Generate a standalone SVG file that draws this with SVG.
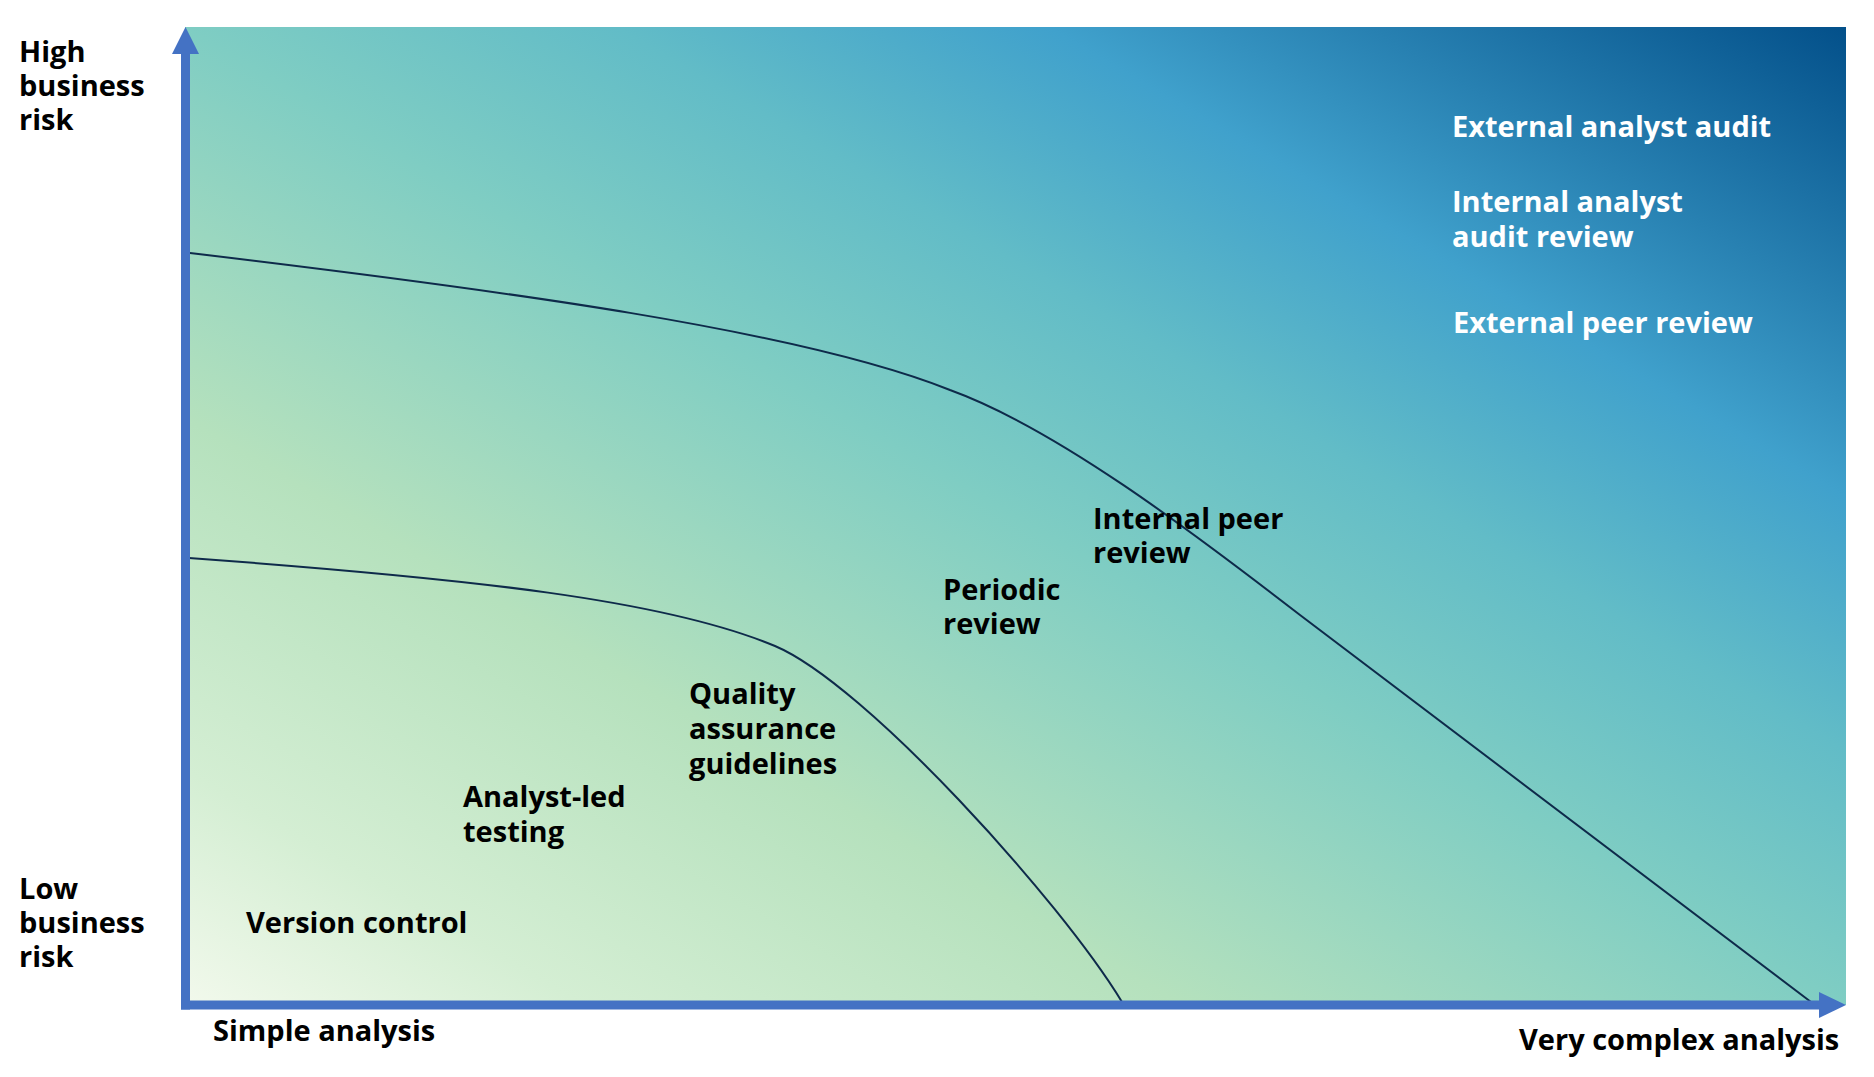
<svg xmlns="http://www.w3.org/2000/svg" width="1874" height="1077" viewBox="0 0 1874 1077">
<defs>
<linearGradient id="bg" x1="0" y1="1" x2="1" y2="0">
<stop offset="0" stop-color="#f2f9ec"/>
<stop offset="0.12" stop-color="#d4eed3"/>
<stop offset="0.3" stop-color="#b5e1bd"/>
<stop offset="0.5" stop-color="#7fcdc3"/>
<stop offset="0.63" stop-color="#62bcc7"/>
<stop offset="0.76" stop-color="#40a1cc"/>
<stop offset="1" stop-color="#03508a"/>
</linearGradient>
</defs>
<style>
.t{font-family:"Open Sans","Liberation Sans",sans-serif;font-weight:bold;font-size:29px;fill:#000}
.w{fill:#fff}
.axis{stroke:#4472c4;stroke-width:9;fill:none}
.head{fill:#4472c4}
.curve{stroke:#0e2a4a;stroke-width:2;fill:none}
</style>
<rect x="185" y="27" width="1661" height="978" fill="url(#bg)"/>
<g id="connectors">
<path class="curve" d="M190,253 C500,290 800,330 950,390 C1055,428 1190,530 1300,615 L1811,1002"/>
<path class="curve" d="M189,558 C475,579 665,600 775,646 C865,684 1060,900 1122,1002"/>
<line class="axis" x1="185.5" y1="50" x2="185.5" y2="1009.5"/>
<line class="axis" x1="181" y1="1005" x2="1822" y2="1005"/>
<polygon class="head" points="185.5,27 199,54 172,54"/>
<polygon class="head" points="1846,1005 1819,992 1819,1018"/>
</g>
<g id="y-high"><text class="t" x="19" y="62">High</text><text class="t" x="19" y="96">business</text><text class="t" x="19" y="130">risk</text></g>
<g id="y-low"><text class="t" x="19" y="899">Low</text><text class="t" x="19" y="933">business</text><text class="t" x="19" y="967">risk</text></g>
<g id="x-simple"><text class="t" x="213" y="1041">Simple analysis</text></g>
<g id="x-complex"><text class="t" x="1519" y="1050">Very complex analysis</text></g>
<g id="version-control"><text class="t" x="246" y="933">Version control</text></g>
<g id="analyst-led"><text class="t" x="463" y="807">Analyst-led</text><text class="t" x="463" y="842">testing</text></g>
<g id="qa-guidelines"><text class="t" x="689" y="704">Quality</text><text class="t" x="689" y="739">assurance</text><text class="t" x="689" y="774">guidelines</text></g>
<g id="periodic-review"><text class="t" x="943" y="600">Periodic</text><text class="t" x="943" y="634">review</text></g>
<g id="internal-peer"><text class="t" x="1093" y="529">Internal peer</text><text class="t" x="1093" y="563">review</text></g>
<g id="external-audit"><text class="t w" x="1452" y="137">External analyst audit</text></g>
<g id="internal-audit"><text class="t w" x="1452" y="212">Internal analyst</text><text class="t w" x="1452" y="247">audit review</text></g>
<g id="external-peer"><text class="t w" x="1453" y="333">External peer review</text></g>
</svg>
